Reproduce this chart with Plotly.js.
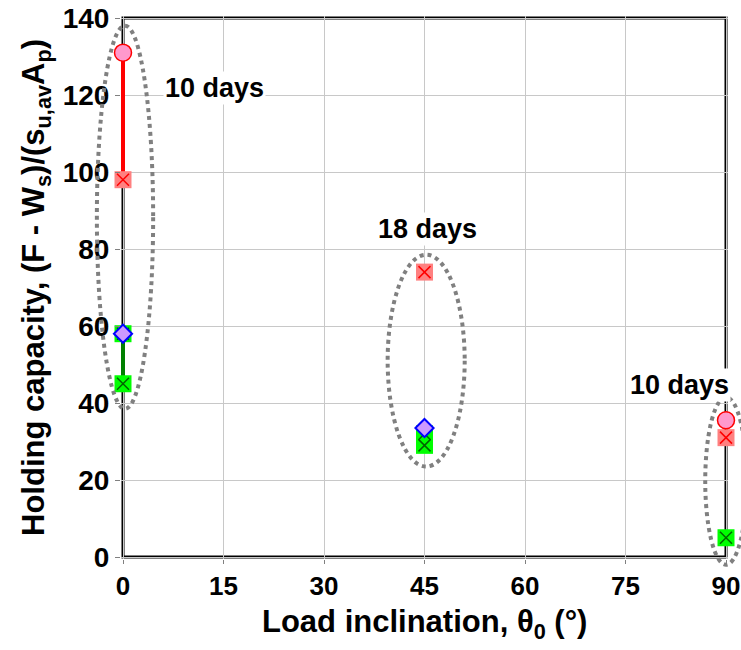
<!DOCTYPE html>
<html><head><meta charset="utf-8">
<script src="https://cdn.plot.ly/plotly-3.0.1.min.js"></script>
<style>body{margin:0;background:#fff}#chart{width:741px;height:650px}</style>
</head><body><div id="chart"></div>
<script>
// Data
const pinkX = [0, 90];
const pinkY = [131, 35.5];
const redX = [0, 45, 90];
const redY = [98, 74, 31];
const diamondX = [0, 45];
const diamondY = [58, 33.5];
const greenX = [0, 0, 45, 45, 90];
const greenY = [58, 45, 32, 29, 5];
const xTicks = [0, 15, 30, 45, 60, 75, 90];
const yTicks = [0, 20, 40, 60, 80, 100, 120, 140];
// groups (ellipses): [x0, x1, y0, y1]
const groupBoxes = [[-3.9, 4.5, 38.5, 138], [39.5, 51.0, 23.5, 78.5], [86.9, 93.1, -2, 41.5]];
const groupLabels = ["10 days", "18 days", "10 days"];
const labelX = [13.7, 45.4, 83.1];
const labelY = [121.8, 85.2, 44.7];

const xMin = 0, xMax = 90, yMin = 0, yMax = 140;
const xPad = 2 * 90 / 603, yPad = 2 * 140 / 539;
const xr = [xMin - xPad, xMax + xPad], yr = [yMin - yPad, yMax + yPad];
const FONT = "Liberation Sans, Arial, sans-serif";

const traces = [
  {x: [pinkX[0], redX[0]], y: [pinkY[0], redY[0]], mode: 'lines', line: {color: '#ff0000', width: 4}, hoverinfo: 'skip'},
  {x: [greenX[0], greenX[1]], y: [greenY[0], greenY[1]], mode: 'lines', line: {color: '#008000', width: 4}, hoverinfo: 'skip'},
  {x: greenX, y: greenY, mode: 'markers', cliponaxis: false, marker: {symbol: 'square', size: 17, color: '#00ff00', line: {width: 0}}},
  {x: greenX, y: greenY, mode: 'markers', cliponaxis: false, marker: {symbol: 'x-thin', size: 12, color: '#006400', line: {color: '#006400', width: 1.5}}},
  {x: redX, y: redY, mode: 'markers', cliponaxis: false, marker: {symbol: 'square', size: 17, color: '#ff8080', line: {width: 0}}},
  {x: redX, y: redY, mode: 'markers', cliponaxis: false, marker: {symbol: 'x-thin', size: 12, color: '#ff0000', line: {color: '#ff0000', width: 1.5}}},
  {x: diamondX, y: diamondY, mode: 'markers', cliponaxis: false, marker: {symbol: 'diamond', size: 14, color: '#cc99ff', line: {color: '#0000ff', width: 2}}},
  {x: pinkX, y: pinkY, mode: 'markers', cliponaxis: false, marker: {symbol: 'circle', size: 17, color: '#ff99cc', line: {color: '#ff0000', width: 1.5}}}
];

const px = v => (v - xr[0]) / (xr[1] - xr[0]);
const py = v => (v - yr[0]) / (yr[1] - yr[0]);
const shapes = [{
  type: 'rect', xref: 'x', yref: 'y', x0: xMin, x1: xMax, y0: yMin, y1: yMax,
  line: {color: '#000', width: 3}, layer: 'below'
}].concat(groupBoxes.map(b => ({
  type: 'circle', xref: 'paper', yref: 'paper',
  x0: px(b[0]), x1: px(b[1]), y0: py(b[2]), y1: py(b[3]),
  line: {color: '#808080', width: 4, dash: 'dot'}, layer: 'above'
})));

const annotations = groupLabels.map((t, i) => ({
  x: labelX[i], y: labelY[i], xref: 'x', yref: 'y', text: '<b>' + t + '</b>',
  showarrow: false, bgcolor: '#ffffff', font: {family: FONT, size: 27, color: '#000'}
}));
annotations.push({
  x: px(45), y: (559 - 624) / 543, xref: 'paper', yref: 'paper', xanchor: 'center', yanchor: 'middle',
  text: '<b>Load inclination, θ<sub>0</sub> (°)</b>', showarrow: false,
  font: {family: FONT, size: 31, color: '#000'}
});

const layout = {
  width: 741, height: 650,
  margin: {l: 121, r: 13, t: 16, b: 91},
  paper_bgcolor: '#fff', plot_bgcolor: '#fff',
  showlegend: false,
  xaxis: {
    range: xr, tickvals: xTicks, ticktext: xTicks.map(v => '<b>' + v + '</b>'),
    showgrid: true, gridcolor: '#c8c8c8', gridwidth: 1, zeroline: false,
    showline: false, ticklabeloverflow: 'allow',
    ticks: 'outside', ticklen: 4, tickcolor: '#808080',
    tickfont: {family: FONT, size: 26, color: '#000'}
  },
  yaxis: {
    range: yr, tickvals: yTicks, ticktext: yTicks.map(v => '<b>' + v + '</b>'),
    showgrid: true, gridcolor: '#c8c8c8', gridwidth: 1, zeroline: false,
    showline: false, ticklabeloverflow: 'allow',
    ticks: 'outside', ticklen: 5, tickcolor: '#808080',
    tickfont: {family: FONT, size: 28, color: '#000'},
    title: {text: '<b>Holding capacity, (F - W<sub>s</sub>)/(s<sub>u,av</sub>A<sub>p</sub>)</b>', font: {family: FONT, size: 31, color: '#000'}, standoff: 8}
  },
  shapes: shapes,
  annotations: annotations
};

Plotly.newPlot('chart', traces, layout, {displayModeBar: false, staticPlot: true});
</script></body></html>
